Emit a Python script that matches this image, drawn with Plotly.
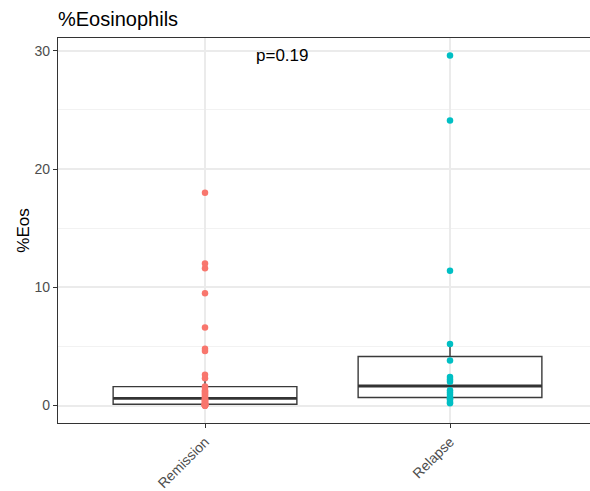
import numpy as np
import plotly.graph_objects as go

categories = ["Remission", "Relapse"]
remission = [0, 0, 0, 0, 0, 0, 0.1, 0.1, 0.1, 0.1,
             0.2, 0.2, 0.3, 0.3, 0.4, 0.4, 0.5, 0.5, 0.6,
             0.7, 0.8, 0.9, 1.0, 1.1, 1.2, 1.3, 1.5,
             1.6, 2.3, 2.6, 4.6, 4.8, 6.6, 9.5, 11.6, 12.0, 18.0]
relapse = [0.2, 0.3, 0.5, 0.6, 0.7, 0.9, 1.1, 1.3, 2.0, 2.2,
           2.4, 3.8, 5.2, 11.4, 24.1, 29.6]
colors = ["#F8766D", "#00BFC4"]
y_ticks = [0, 10, 20, 30]
p_label = "p=0.19"

series = [remission, relapse]
fig = go.Figure()

FONT = "Liberation Sans, Arial, sans-serif"
BOXW = 0.75
for i, (vals, col) in enumerate(zip(series, colors)):
    pos = i + 1
    v = np.array(vals, dtype=float)
    q1, med, q3 = np.percentile(v, [25, 50, 75])
    iqr = q3 - q1
    upper = v[v <= q3 + 1.5 * iqr].max()
    lower = v[v >= q1 - 1.5 * iqr].min()
    fig.add_trace(go.Box(
        x=[pos], q1=[q1], median=[med], q3=[q3],
        lowerfence=[lower], upperfence=[upper],
        width=BOXW, whiskerwidth=0,
        fillcolor="rgba(0,0,0,0)",
        line=dict(color="#3a3a3a", width=1.4),
        boxpoints=False, showlegend=False, hoverinfo="skip"))
    fig.add_trace(go.Scatter(
        x=[pos - BOXW / 2, pos + BOXW / 2], y=[med, med], mode="lines",
        line=dict(color="#333333", width=2.8), showlegend=False, hoverinfo="skip"))

for i, (vals, col) in enumerate(zip(series, colors)):
    fig.add_trace(go.Scatter(
        x=[i + 1] * len(vals), y=vals, mode="markers",
        marker=dict(color=col, size=6.5, line=dict(width=0)),
        showlegend=False))

allv = np.concatenate([np.array(s, float) for s in series])
ymin, ymax = allv.min(), allv.max()
pad = (ymax - ymin) * 0.05

fig.add_annotation(x=1.2, y=ymax, xref="x", yref="y", text=p_label,
                   showarrow=False, xanchor="left", yanchor="middle",
                   font=dict(family=FONT, size=17, color="black"))

fig.update_layout(
    width=590, height=491,
    margin=dict(l=58, r=0, t=38, b=68),
    paper_bgcolor="white", plot_bgcolor="white",
    font=dict(family=FONT),
    title=dict(text="%Eosinophils", x=58 / 590, xref="container", xanchor="left",
               y=1 - 19 / 491, yref="container", yanchor="middle",
               font=dict(family=FONT, size=20, color="black")),
)
fig.update_xaxes(
    range=[0.4, 0.4 + 532 / 245],
    tickvals=[1, 2], ticktext=categories, tickangle=-45,
    showgrid=True, gridcolor="#EBEBEB", gridwidth=1.5,
    ticks="outside", ticklen=4, tickwidth=1.2, tickcolor="#333333",
    tickfont=dict(family=FONT, size=14, color="#4D4D4D"),
    showline=True, linecolor="#333333", linewidth=1.3, mirror=True,
    zeroline=False,
)
fig.update_yaxes(
    range=[ymin - pad, ymax + pad],
    tickvals=y_ticks,
    showgrid=True, gridcolor="#EBEBEB", gridwidth=1.5,
    minor=dict(dtick=5, showgrid=True, gridcolor="#F2F2F2", gridwidth=1),
    ticks="outside", ticklen=4, tickwidth=1.2, tickcolor="#333333",
    tickfont=dict(family=FONT, size=14, color="#4D4D4D"),
    showline=True, linecolor="#333333", linewidth=1.3, mirror=False,
    zeroline=False,
    title=dict(text="%Eos", font=dict(family=FONT, size=17, color="black"), standoff=0),
)

fig.write_html("out.html")
